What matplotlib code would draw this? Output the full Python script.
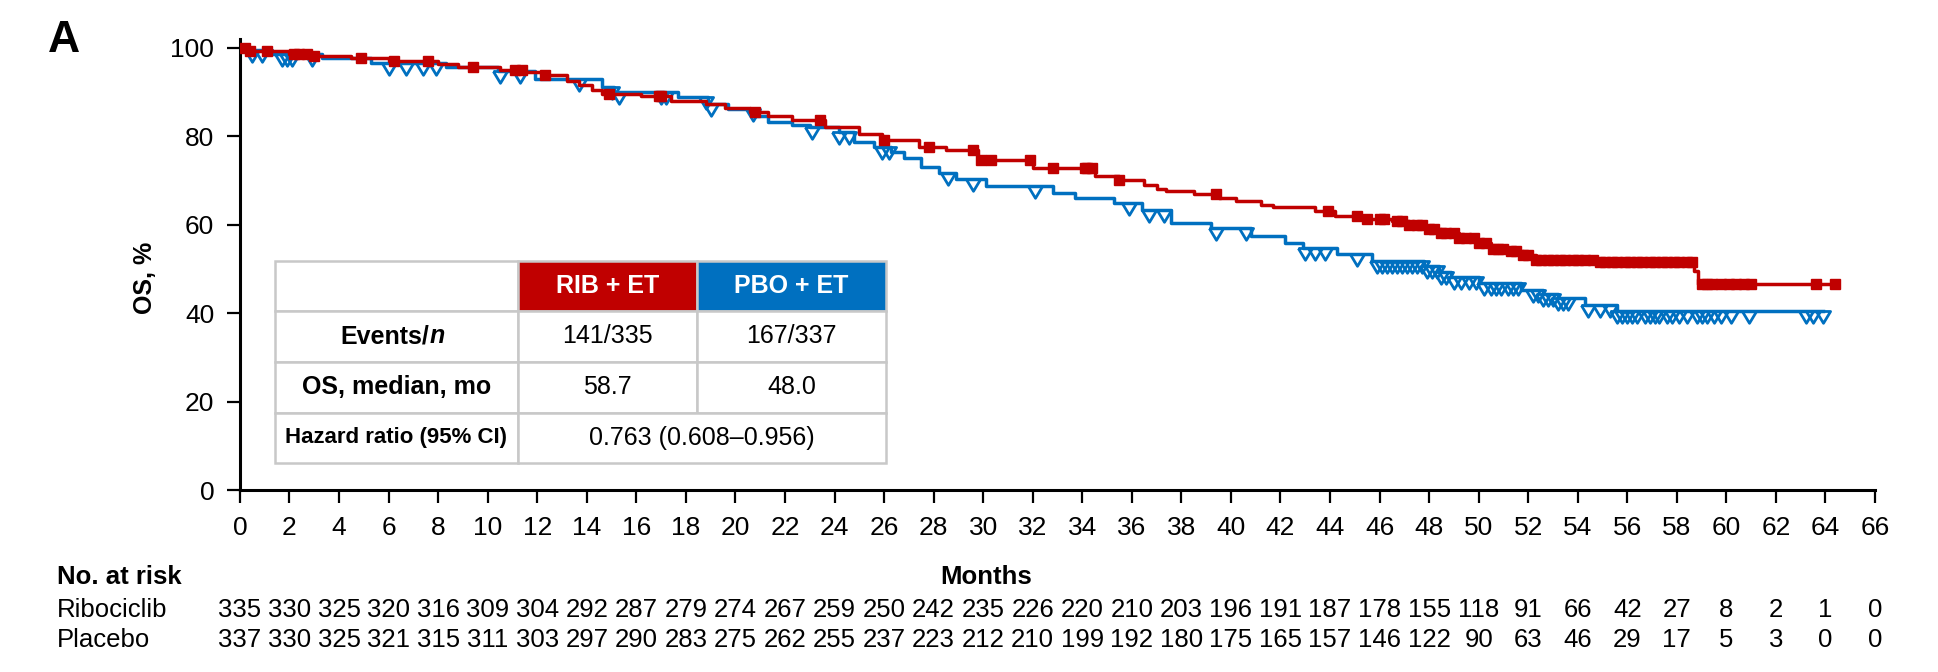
import matplotlib
matplotlib.use('Agg')
import matplotlib.pyplot as plt
import matplotlib.transforms as mtransforms
from matplotlib.patches import Rectangle
import numpy as np

plt.rcParams['font.family'] = ['Liberation Sans', 'DejaVu Sans']

# Kaplan-Meier steps (month, OS %)
rib_t = [0, 0.3, 2.0, 3.0, 4.5, 6.0, 8.0, 8.8, 10.5, 11.5, 12.3, 13.2, 13.7, 14.2, 14.6,
         16.2, 17.4, 18.8, 19.6, 20.6, 21.3, 22.3, 23.6, 25.0, 25.9, 27.4, 28.5, 29.8,
         32.0, 34.5, 35.5, 36.5, 37.0, 37.4, 38.5, 39.5, 40.2, 41.2, 41.7, 43.4, 44.2,
         45.2, 46.5, 47.2, 47.8, 48.5, 49.2, 49.9, 50.5, 51.2, 51.8, 52.3, 54.7, 58.7,
         58.85, 64.4]
rib_s = [100, 99.3, 98.7, 98.2, 97.7, 97.1, 96.3, 95.6, 95.0, 94.5, 93.9, 92.6, 91.5, 90.5, 89.6,
         89.2, 88.0, 87.2, 86.3, 85.6, 84.7, 83.6, 82.1, 80.6, 79.1, 77.6, 76.8, 74.6,
         72.8, 71.0, 70.1, 69.0, 68.0, 67.6, 66.9, 66.0, 65.4, 64.5, 63.9, 63.0, 61.9,
         61.4, 60.9, 60.0, 59.0, 58.1, 57.0, 55.9, 54.6, 54.0, 53.1, 52.1, 51.6, 49.5,
         46.7, 46.7]

pbo_t = [0, 0.3, 1.3, 3.3, 5.3, 8.3, 10.4, 11.9, 14.6, 15.1, 17.7, 18.9, 19.7, 20.8,
         21.3, 22.3, 23.0, 24.2, 24.8, 25.6, 26.3, 26.8, 27.5, 28.2, 28.9, 30.1, 32.8,
         33.7, 35.3, 36.4, 37.6, 39.2, 40.8, 42.2, 42.9, 44.3, 45.7, 47.8, 48.4, 48.9,
         50.0, 51.7, 52.6, 53.2, 54.3, 55.6, 63.9]
pbo_s = [100, 99.5, 98.6, 97.8, 96.5, 95.6, 94.7, 93.0, 91.2, 90.0, 88.9, 87.2, 86.2, 84.7,
         83.2, 82.5, 82.1, 81.0, 78.7, 77.6, 76.5, 75.0, 73.0, 71.6, 70.3, 68.8, 67.1,
         66.0, 64.9, 63.4, 60.4, 59.3, 57.4, 55.8, 54.8, 53.3, 51.8, 50.7, 49.2, 48.1,
         46.8, 45.2, 44.3, 43.5, 41.8, 40.5, 40.5]

# censoring times
rib_cens = [0.2, 0.4, 1.1, 2.2, 2.4, 2.7, 3.0, 4.9, 6.2, 7.6, 9.4, 11.1, 11.4, 12.3, 14.9,
            16.9, 17.0, 20.8, 23.4, 26.0, 27.8, 29.6, 29.9, 30.3, 31.9, 32.8, 34.1, 34.2,
            34.4, 35.5, 39.4, 43.9, 45.1, 45.5, 46.0, 46.2, 46.7, 46.9, 47.2, 47.5, 47.7,
            48.0, 48.2, 48.5, 48.7, 49.0, 49.2, 49.5, 49.8, 50.0, 50.3, 50.6, 50.8, 51.0,
            51.3, 51.5, 51.8, 52.0, 52.3, 52.5, 52.8, 53.0, 53.3, 53.5, 53.8, 54.0, 54.3,
            54.6, 54.9, 55.1, 55.4, 55.6, 55.9, 56.1, 56.4, 56.6, 56.9, 57.1, 57.4, 57.6,
            57.9, 58.1, 58.4, 58.6, 59.0, 59.2, 59.4, 59.8, 60.1, 60.4, 60.7, 61.0, 63.6,
            64.4]
pbo_cens = [0.5, 0.9, 1.7, 1.9, 2.1, 2.9, 6.0, 6.7, 7.4, 7.9, 10.5, 11.3, 13.7, 15.0, 15.3,
            17.0, 17.2, 18.8, 19.0, 20.7, 23.1, 24.2, 24.6, 25.9, 26.2, 28.6, 29.6, 32.1,
            35.9, 36.7, 37.3, 39.4, 40.6, 43.0, 43.4, 43.8, 45.1, 45.9, 46.1, 46.3, 46.5,
            46.7, 46.9, 47.1, 47.3, 47.5, 47.7, 47.9, 48.1, 48.3, 48.5, 48.7, 49.0, 49.3,
            49.6, 49.9, 50.2, 50.5, 50.7, 50.9, 51.2, 51.4, 51.6, 52.2, 52.4, 52.6, 52.8,
            53.0, 53.2, 53.4, 53.6, 54.4, 54.9, 55.3, 55.6, 55.8, 56.0, 56.2, 56.4, 56.7,
            56.9, 57.1, 57.3, 57.6, 57.8, 58.1, 58.4, 58.8, 59.0, 59.2, 59.5, 59.8, 60.2,
            60.9, 63.2, 63.5, 63.9]

months = list(range(0, 67, 2))
rib_risk = [335, 330, 325, 320, 316, 309, 304, 292, 287, 279, 274, 267, 259, 250, 242, 235, 226,
            220, 210, 203, 196, 191, 187, 178, 155, 118, 91, 66, 42, 27, 8, 2, 1, 0]
pbo_risk = [337, 330, 325, 321, 315, 311, 303, 297, 290, 283, 275, 262, 255, 237, 223, 212, 210,
            199, 192, 180, 175, 165, 157, 146, 122, 90, 63, 46, 29, 17, 5, 3, 0, 0]

red = '#C00000'
blue = '#0070C0'


def surv_at(t, s, x):
    idx = np.searchsorted(t, x, side='right') - 1
    return np.asarray(s)[idx]


fig = plt.figure(figsize=(19.38, 6.72), dpi=100)
ax = fig.add_axes([0.1238, 0.2708, 0.8437, 0.6711])

ax.step(rib_t, rib_s, where='post', color=red, lw=2.5, zorder=3)
ax.step(pbo_t, pbo_s, where='post', color=blue, lw=2.5, zorder=2)
# open triangle hanging below the line
tri = [(-0.6, 0), (0.6, 0), (0, -1.0), (-0.6, 0)]
ax.plot(pbo_cens, surv_at(pbo_t, pbo_s, pbo_cens), ls='none', marker=tri, ms=17,
        mfc='none', mec=blue, mew=2.0, zorder=2)
ax.plot(rib_cens, surv_at(rib_t, rib_s, rib_cens), ls='none', marker='s', ms=7,
        color=red, zorder=4)

ax.set_xlim(0, 66)
ax.set_ylim(0, 102)
ax.set_xticks(months)
ax.set_yticks(range(0, 101, 20))
for sp in ['top', 'right']:
    ax.spines[sp].set_visible(False)
for sp in ['left', 'bottom']:
    ax.spines[sp].set_linewidth(2.2)
ax.tick_params(axis='both', length=9.5, width=1.6, pad=9, labelsize=19)

# summary table inside the plot (axes fractions)
cols = [0.0214, 0.170, 0.2795, 0.395]
rows = [0.5078, 0.397, 0.284, 0.171, 0.060]
grey = '#C8C8C8'
for r in range(4):
    for c in range(3):
        if r == 3 and c > 0:
            continue
        fc = 'white'
        if r == 0 and c == 1:
            fc = red
        elif r == 0 and c == 2:
            fc = blue
        ax.add_patch(Rectangle((cols[c], rows[r + 1]), cols[c + 1] - cols[c], rows[r] - rows[r + 1],
                               transform=ax.transAxes, fc=fc, ec=grey, lw=1.8, zorder=5))
ax.add_patch(Rectangle((cols[1], rows[4]), cols[3] - cols[1], rows[3] - rows[4],
                       transform=ax.transAxes, fc='white', ec=grey, lw=1.8, zorder=5))


def cell(c0, c1, r, s, **kw):
    ax.text((cols[c0] + cols[c1]) / 2, (rows[r] + rows[r + 1]) / 2, s, transform=ax.transAxes,
            ha='center', va='center', zorder=6, **kw)


cell(1, 2, 0, 'RIB + ET', color='white', fontweight='bold', fontsize=18)
cell(2, 3, 0, 'PBO + ET', color='white', fontweight='bold', fontsize=18)
xc = (cols[0] + cols[1]) / 2 + 0.020
ax.text(xc, (rows[1] + rows[2]) / 2, 'Events/', transform=ax.transAxes, ha='right',
        va='center', fontweight='bold', fontsize=18, zorder=6)
ax.text(xc, (rows[1] + rows[2]) / 2, 'n', transform=ax.transAxes, ha='left',
        va='center', fontweight='bold', fontstyle='italic', fontsize=18, zorder=6)
cell(1, 2, 1, '141/335', fontsize=18)
cell(2, 3, 1, '167/337', fontsize=18)
cell(0, 1, 2, 'OS, median, mo', fontweight='bold', fontsize=18)
cell(1, 2, 2, '58.7', fontsize=18)
cell(2, 3, 2, '48.0', fontsize=18)
cell(0, 1, 3, 'Hazard ratio (95% CI)', fontweight='bold', fontsize=16)
cell(1, 3, 3, '0.763 (0.608\u20130.956)', fontsize=18)

# labels
fig.text(0.033, 0.94, 'A', fontsize=32, fontweight='bold', ha='center', va='center')
fig.text(0.0748, 0.586, 'OS, %', fontsize=18, fontweight='bold', rotation=90,
         ha='center', va='center')
fig.text(0.509, 0.1414, 'Months', fontsize=18.5, fontweight='bold', ha='center', va='center')
fig.text(0.0294, 0.1414, 'No. at risk', fontsize=18.5, fontweight='bold', ha='left', va='center')
fig.text(0.0294, 0.0923, 'Ribociclib', fontsize=18.5, ha='left', va='center')
fig.text(0.0294, 0.0476, 'Placebo', fontsize=18.5, ha='left', va='center')

trans = mtransforms.blended_transform_factory(ax.transData, fig.transFigure)
for m, a, b in zip(months, rib_risk, pbo_risk):
    ax.text(m, 0.0923, str(a), transform=trans, ha='center', va='center', fontsize=18.5)
    ax.text(m, 0.0476, str(b), transform=trans, ha='center', va='center', fontsize=18.5)

fig.savefig('out.png', dpi=100)
